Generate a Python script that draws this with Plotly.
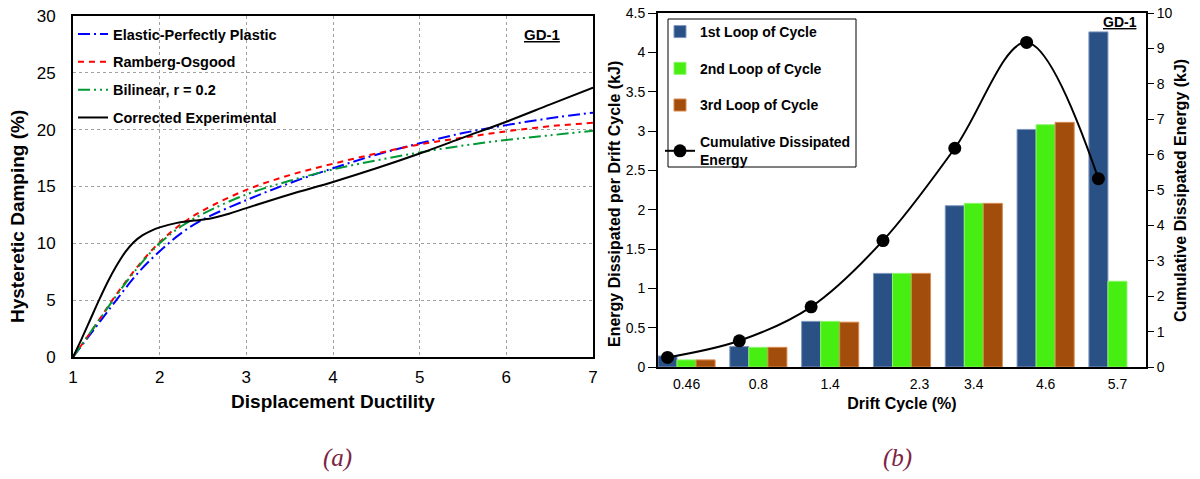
import plotly.graph_objects as go

# ---------------- data: panel (a) ----------------
ductility = [1.0, 1.25, 1.5, 1.75, 2.0, 2.25, 2.5, 3.0, 3.5, 4.0, 4.5, 5.0, 5.5, 6.0, 6.5, 7.0]
epp = [0, 2.5, 5.0, 7.4, 9.3, 10.9, 12.1, 13.8, 15.3, 16.6, 17.8, 18.8, 19.7, 20.4, 21.0, 21.5]
ramberg = [0, 2.7, 5.5, 8.0, 10.1, 11.7, 12.9, 14.7, 16.0, 17.0, 17.9, 18.7, 19.3, 19.85, 20.3, 20.6]
bilinear = [0, 2.7, 5.4, 7.9, 10.0, 11.5, 12.6, 14.3, 15.5, 16.5, 17.3, 18.0, 18.6, 19.1, 19.5, 19.9]
exp_x = [1.0, 1.1, 1.2, 1.3, 1.4, 1.5, 1.6, 1.7, 1.8, 1.9, 2.0, 2.2, 2.4, 2.6, 2.8, 3.0,
         3.5, 4.0, 4.5, 5.0, 5.5, 6.0, 6.5, 7.0]
exp_y = [0, 1.6, 3.3, 5.0, 6.6, 8.0, 9.2, 10.1, 10.7, 11.1, 11.4, 11.8, 12.0, 12.2, 12.6, 13.1,
         14.3, 15.4, 16.6, 17.9, 19.3, 20.7, 22.2, 23.7]

# ---------------- data: panel (b) ----------------
drift = ["0.46", "0.8", "1.4", "2.3", "3.4", "4.6", "5.7"]
loop1 = [0.14, 0.26, 0.58, 1.19, 2.05, 3.02, 4.26]
loop2 = [0.09, 0.25, 0.58, 1.19, 2.08, 3.08, 1.09]
loop3 = [0.09, 0.25, 0.57, 1.19, 2.08, 3.11, None]
cumulative = [0.27, 0.74, 1.70, 3.57, 6.18, 9.17, 5.32]

W, H = 1200, 479
FONT = "Liberation Sans, Arial, sans-serif"
SERIF = "Liberation Serif, DejaVu Serif, serif"

def px_x(p):
    return p / W

def px_y(p):
    return 1 - p / H

fig = go.Figure()

# ---------- panel (a) traces ----------
fig.add_trace(go.Scatter(x=ductility, y=epp, mode="lines", name="Elastic-Perfectly Plastic",
                         line=dict(color="#0000ff", width=2, dash="12px,4px,2px,4px", shape="spline"),
                         xaxis="x", yaxis="y", legend="legend", legendgroup="a1"))
fig.add_trace(go.Scatter(x=ductility, y=ramberg, mode="lines", name="Ramberg-Osgood",
                         line=dict(color="#ff0000", width=2, dash="6px,5px", shape="spline"),
                         xaxis="x", yaxis="y", legend="legend", legendgroup="a2"))
fig.add_trace(go.Scatter(x=ductility, y=bilinear, mode="lines", name="Bilinear, r = 0.2",
                         line=dict(color="#009933", width=2, dash="12px,4px,2px,4px,2px,4px", shape="spline"),
                         xaxis="x", yaxis="y", legend="legend", legendgroup="a3"))
fig.add_trace(go.Scatter(x=exp_x, y=exp_y, mode="lines", name="Corrected Experimental",
                         line=dict(color="#000000", width=2, shape="spline"),
                         xaxis="x", yaxis="y", legend="legend", legendgroup="a4"))

# ---------- panel (b) traces ----------
bargap = 0.205
barw = (1 - bargap) / 3
idx = list(range(len(drift)))
fig.add_trace(go.Bar(x=idx, y=loop1, name="1st Loop of Cycle",
                     marker=dict(color="#2a5186", line=dict(color="#7e97bf", width=1)),
                     xaxis="x2", yaxis="y2", legend="legend2", legendgroup="b1"))
fig.add_trace(go.Bar(x=idx, y=loop2, name="2nd Loop of Cycle",
                     marker=dict(color="#46ee12", line=dict(color="#8df56a", width=1)),
                     xaxis="x2", yaxis="y2", legend="legend2", legendgroup="b2"))
fig.add_trace(go.Bar(x=idx, y=loop3, name="3rd Loop of Cycle",
                     marker=dict(color="#a24d0c", line=dict(color="#d98a4e", width=1)),
                     xaxis="x2", yaxis="y2", legend="legend2", legendgroup="b3"))
fig.add_trace(go.Scatter(x=[i - barw for i in idx], y=cumulative, mode="lines+markers",
                         name="Cumulative Dissipated<br>Energy",
                         line=dict(color="#000000", width=2, shape="spline", smoothing=1),
                         marker=dict(color="#000000", size=13),
                         xaxis="x2", yaxis="y3", legend="legend2", legendgroup="b4"))

ticktext = [("\u00a0" * 9 + t) if t == "2.3" else t for t in drift]

axis_line = dict(showline=True, linecolor="#000000", linewidth=2, mirror=True, zeroline=False,
                 automargin=False)

fig.update_layout(
    width=W, height=H,
    margin=dict(l=0, r=0, t=0, b=0, autoexpand=False),
    paper_bgcolor="white", plot_bgcolor="white",
    font=dict(family=FONT, color="#000000"),
    barmode="group", bargap=bargap, bargroupgap=0,
    xaxis=dict(domain=[px_x(73), px_x(593)], range=[1, 7], dtick=1, anchor="y",
               showgrid=True, gridcolor="#a0a0a0", griddash="dot", gridwidth=1,
               ticks="outside", ticklen=4, tickcolor="rgba(0,0,0,0)",
               tickfont=dict(size=17),
               title=dict(text="<b>Displacement Ductility</b>", font=dict(size=19), standoff=8),
               **axis_line),
    yaxis=dict(domain=[px_y(357), px_y(16)], range=[0, 30], dtick=5, anchor="x",
               showgrid=True, gridcolor="#a0a0a0", griddash="dot", gridwidth=1,
               ticks="outside", ticklen=12, tickcolor="rgba(0,0,0,0)",
               tickfont=dict(size=17),
               **axis_line),
    xaxis2=dict(domain=[px_x(658), px_x(1146)], range=[-0.3975, len(drift) - 1 + 0.3975],
                anchor="y2", tickmode="array", tickvals=idx, ticktext=ticktext,
                showgrid=False, ticks="outside", ticklen=3, tickcolor="rgba(0,0,0,0)",
                tickfont=dict(size=14),
                title=dict(text="<b>Drift Cycle (%)</b>", font=dict(size=16), standoff=7),
                **axis_line),
    yaxis2=dict(domain=[px_y(367), px_y(13)], range=[0, 4.5], dtick=0.5, anchor="x2",
                showgrid=False, ticks="outside", ticklen=8, tickcolor="#000000",
                tickfont=dict(size=14),
                **axis_line),
    yaxis3=dict(overlaying="y2", side="right", anchor="x2", range=[0, 10], dtick=1,
                showgrid=False, showline=True, linecolor="#000000", linewidth=2, zeroline=False,
                automargin=False,
                ticks="outside", ticklen=6, tickcolor="#000000",
                tickfont=dict(size=14)),
    legend=dict(x=px_x(73), y=px_y(18), xanchor="left", yanchor="top",
                bgcolor="rgba(0,0,0,0)", borderwidth=0,
                font=dict(size=14.5, family=FONT), tracegroupgap=6, itemwidth=30),
    legend2=dict(x=px_x(660), y=px_y(16), xanchor="left", yanchor="top",
                 bgcolor="rgba(0,0,0,0)", borderwidth=0,
                 font=dict(size=14, family=FONT), tracegroupgap=15.5, itemwidth=30),
    showlegend=True,
)

# legend box of panel (b)
fig.add_shape(type="rect", xref="paper", yref="paper",
              x0=px_x(668), x1=px_x(856), y0=px_y(167), y1=px_y(19),
              line=dict(color="#000000", width=1), fillcolor="white", layer="below")

# legend labels bold
for tr in fig.data:
    tr.name = "<b>" + tr.name + "</b>"

def label(x, y, text, size, family=FONT, color="#000000", angle=0):
    fig.add_annotation(x=px_x(x), y=px_y(y), xref="paper", yref="paper", showarrow=False,
                       xanchor="center", yanchor="middle", textangle=angle,
                       text=text, font=dict(size=size, family=family, color=color))

label(18, 217, "<b>Hysteretic Damping (%)</b>", 19, angle=-90)
label(615, 204, "<b>Energy Dissipated per Drift Cycle (kJ)</b>", 16, angle=-90)
label(1181, 191, "<b>Cumulative Dissipated Energy (kJ)</b>", 16, angle=-90)
label(542, 35, "<b><u>GD-1</u></b>", 15)
label(1120, 22, "<b><u>GD-1</u></b>", 14)
label(337, 458, "<i>(a)</i>", 25, family=SERIF, color="#7b2444")
label(897, 458, "<i>(b)</i>", 25, family=SERIF, color="#7b2444")

# remove the browser's default 8px body margin so the figure fills the window exactly
fig.write_html("out.html",
               config={"displayModeBar": False},
               post_script="document.body.style.margin='0';document.body.style.overflow='hidden';")
